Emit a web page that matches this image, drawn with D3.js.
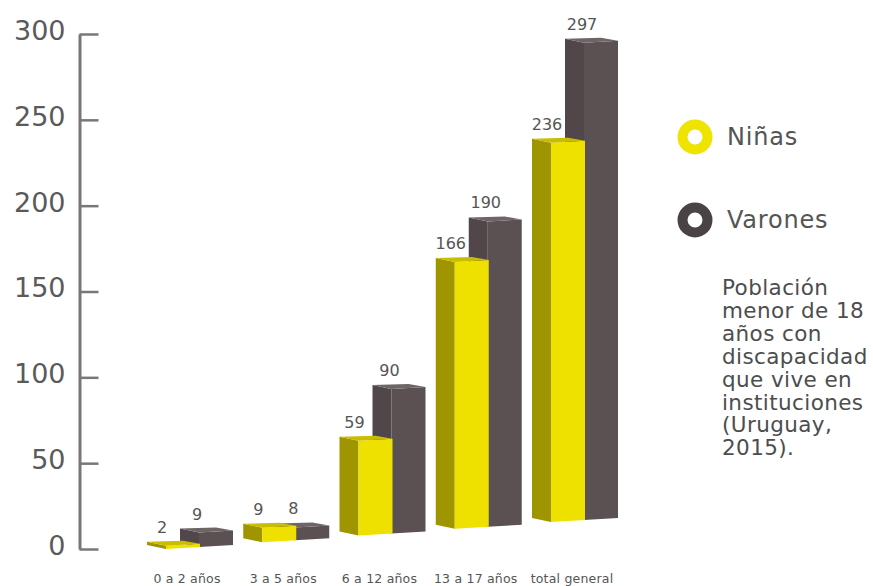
<!DOCTYPE html>
<html>
<head>
<meta charset="utf-8">
<script src="https://cdn.jsdelivr.net/npm/d3@7"></script>
<style>
  html, body { margin: 0; padding: 0; background: #fff; }
  svg { display: block; }
  text { font-family: "DejaVu Sans", sans-serif; }
</style>
</head>
<body>
<svg id="chart" width="873" height="586"></svg>
<script>
// Population under 18 with disability living in institutions (Uruguay, 2015)
const categories = ["0 a 2 años", "3 a 5 años", "6 a 12 años", "13 a 17 años", "total general"];
const ninas   = [2, 9, 59, 166, 236];
const varones = [9, 8, 90, 190, 297];
const yTicks  = [0, 50, 100, 150, 200, 250, 300];
const seriesNames = ["Niñas", "Varones"];
const noteLines = ["Población", "menor de 18", "años con", "discapacidad", "que vive en", "instituciones", "(Uruguay,", "2015)."];

const svg = d3.select("#chart");

// Scales
const yAxisScale = d3.scaleLinear().domain([0, 300]).range([549, 34]);
const xGroup = d3.scalePoint().domain(categories).range([147, 532]);
// bars stand on a receding floor: base rises toward the right
const floorY = d3.scaleLinear().domain([147, 532]).range([549, 522]);
// bar height in pixels
const hScale = d3.scaleLinear().domain([0, 300]).range([0, 482]);

// Prism geometry
const SIDE = 19, FRONT = 34, DARK_OFF = 33;

const palette = {
  ninas:   { side: "#9f9500", front: "#eee100", top: "#c9bd00" },
  varones: { side: "#51474a", front: "#5b5153", top: "#6e6567" }
};

function prism(g, x0, base, h, col) {
  const x1 = x0 + SIDE, x2 = x1 + FRONT;
  const t = base - h;
  // side face
  g.append("path")
    .attr("d", `M${x0},${t - 4}L${x1},${t}L${x1},${base}L${x0},${base - 4}Z`)
    .attr("fill", col.side);
  // front face
  g.append("path")
    .attr("d", `M${x1},${t}L${x2},${t - 2}L${x2},${base - 2}L${x1},${base}Z`)
    .attr("fill", col.front);
  // top face
  g.append("path")
    .attr("d", `M${x0},${t - 4}L${x1},${t}L${x2},${t - 2}L${x2 - SIDE + 2},${t - 5}Z`)
    .attr("fill", col.top);
}

// Axis
const axis = d3.axisLeft(yAxisScale)
  .tickValues(yTicks)
  .tickSizeInner(-19)
  .tickSizeOuter(0)
  .tickPadding(14);

const ax = svg.append("g").attr("transform", "translate(79.5,0)").call(axis);
ax.select(".domain").attr("stroke", "#777").attr("stroke-width", 3);
ax.selectAll(".tick line").attr("stroke", "#777").attr("stroke-width", 2.5);
ax.selectAll(".tick text")
  .attr("fill", "#5a5a5a")
  .attr("font-size", 27)
  .attr("font-family", "DejaVu Sans, sans-serif")
  .attr("dy", "0.2em");

// Bars
const bars = svg.append("g");
categories.forEach((c, i) => {
  const x0 = xGroup(c);
  const base = floorY(x0);
  const g = bars.append("g");
  // varones bar sits slightly behind and to the right
  const hv = hScale(varones[i]);
  prism(g, x0 + DARK_OFF, base - 2, hv, palette.varones);
  const hn = hScale(ninas[i]);
  prism(g, x0, base, hn, palette.ninas);

  // value labels
  svg.append("text")
    .attr("x", x0 + 15)
    .attr("y", base - hn - 13)
    .attr("text-anchor", "middle")
    .attr("font-size", 16)
    .attr("fill", "#555")
    .text(ninas[i]);
  svg.append("text")
    .attr("x", x0 + DARK_OFF + 17)
    .attr("y", base - 2 - hv - 13)
    .attr("text-anchor", "middle")
    .attr("font-size", 16)
    .attr("fill", "#555")
    .text(varones[i]);

  // category label
  svg.append("text")
    .attr("x", x0 + 40)
    .attr("y", 583)
    .attr("text-anchor", "middle")
    .attr("font-size", 12.5)
    .attr("letter-spacing", 0.2)
    .attr("fill", "#555")
    .text(c);
});

// Legend
const legend = svg.append("g");
const legendRows = [
  { name: seriesNames[0], color: "#efe300", cy: 137 },
  { name: seriesNames[1], color: "#4a4345", cy: 220 }
];
legendRows.forEach(r => {
  legend.append("circle")
    .attr("cx", 695).attr("cy", r.cy).attr("r", 12.5)
    .attr("fill", "none").attr("stroke", r.color).attr("stroke-width", 10);
  legend.append("text")
    .attr("x", 727).attr("y", r.cy + 8)
    .attr("font-size", 24)
    .attr("letter-spacing", 0.8)
    .attr("fill", "#555")
    .text(r.name);
});

// Note
const note = svg.append("text")
  .attr("x", 722).attr("y", 295)
  .attr("font-size", 21.5)
  .attr("letter-spacing", 0.4)
  .attr("fill", "#4d4d4d");
noteLines.forEach((l, i) => {
  note.append("tspan").attr("x", 722).attr("y", 295 + i * 22.9).text(l);
});
</script>
</body>
</html>
